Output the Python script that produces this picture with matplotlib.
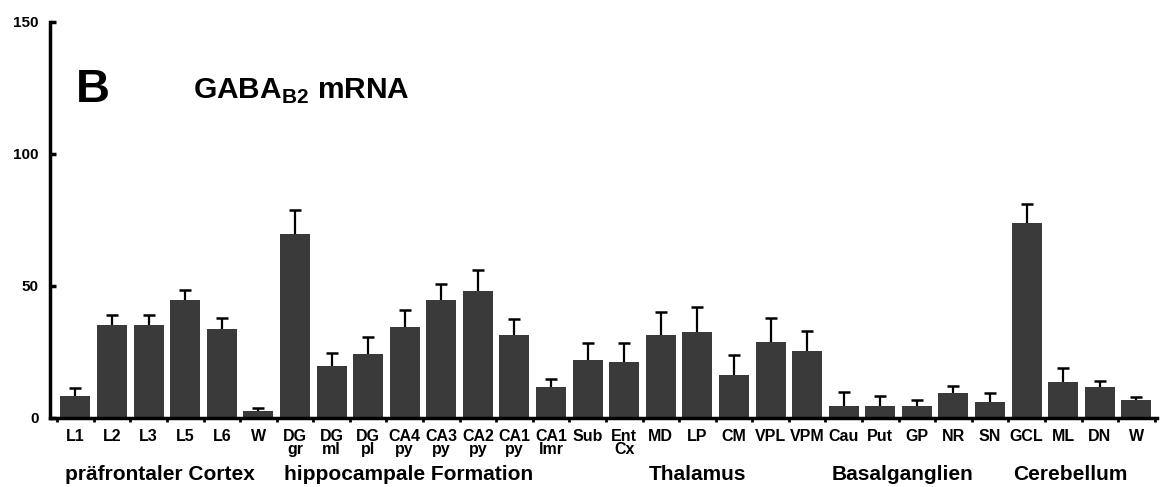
import matplotlib.pyplot as plt
import numpy as np

plt.rcParams['font.family'] = ['Liberation Sans', 'DejaVu Sans']
plt.rcParams['font.weight'] = 'bold'
plt.rcParams['mathtext.fontset'] = 'custom'
plt.rcParams['mathtext.rm'] = 'Liberation Sans:bold'
plt.rcParams['mathtext.bf'] = 'Liberation Sans:bold'

labels = ["L1", "L2", "L3", "L5", "L6", "W",
          "DG\ngr", "DG\nml", "DG\npl", "CA4\npy", "CA3\npy", "CA2\npy", "CA1\npy", "CA1\nlmr", "Sub", "Ent\nCx",
          "MD", "LP", "CM", "VPL", "VPM",
          "Cau", "Put", "GP", "NR", "SN",
          "GCL", "ML", "DN", "W"]
means = [8.3, 35.1, 35.1, 44.7, 33.8, 2.8,
         69.7, 19.8, 24.2, 34.6, 44.7, 48.2, 31.4, 11.6, 21.8, 21.1,
         31.4, 32.4, 16.4, 28.8, 25.4,
         4.7, 4.7, 4.7, 9.6, 6.2,
         74.0, 13.5, 11.6, 6.8]
upper = [11.5, 39.1, 39.1, 48.5, 37.7, 3.7,
         78.8, 24.5, 30.6, 41.0, 50.6, 55.9, 37.6, 14.6, 28.5, 28.5,
         40.2, 42.2, 24.0, 38.0, 33.1,
         9.7, 8.2, 6.8, 12.1, 9.6,
         80.9, 18.8, 14.0, 8.0]
groups = ["präfrontaler Cortex", "hippocampale Formation", "Thalamus", "Basalganglien", "Cerebellum"]
group_pos = [2.3, 9.1, 17.0, 22.6, 27.2]

means = np.array(means)
sd = np.array(upper) - means
x = np.arange(len(labels))

fig = plt.figure(figsize=(11.6, 4.87), dpi=100)
ax = fig.add_axes([0.043, 0.1417, 0.954, 0.8133])

ax.bar(x, means, width=0.82, color="#3a3a3a", zorder=2)
eb = ax.errorbar(x, means, yerr=[np.zeros_like(sd), sd], fmt="none", ecolor="black",
                 elinewidth=1.6, capsize=4, capthick=1.8, zorder=3)
# only the upper caps are drawn in the original
eb[1][0].set_visible(False)

ax.set_xlim(-0.7, 29.55)
ax.set_ylim(0, 150)
ax.spines['top'].set_visible(False)
ax.spines['right'].set_visible(False)
ax.spines['left'].set_linewidth(2.5)
ax.spines['bottom'].set_linewidth(2.5)

ax.set_yticks([0, 50, 100, 150])
ax.tick_params(axis='y', direction='in', length=4, width=2.5, labelsize=11, pad=8)
ax.set_xticks(x)
ax.set_xticklabels(labels, fontsize=11.5, linespacing=0.8, va='top')
ax.tick_params(axis='x', which='major', length=0, pad=8)
ax.set_xticks(np.arange(-0.5, 30, 1), minor=True)
ax.tick_params(axis='x', which='minor', direction='out', length=3, width=2)

for g, p in zip(groups, group_pos):
    ax.text(p, -21.5, g, ha='center', va='center', fontsize=15, fontweight='bold',
            transform=ax.transData, clip_on=False)

fig.text(0.0655, 0.815, "B", fontsize=34, fontweight='bold', ha='left', va='center')
fig.text(0.166, 0.812, r"GABA$_{\mathbf{B2}}$ mRNA", fontsize=21.5, fontweight='bold',
         ha='left', va='center')

fig.savefig("out.png", dpi=100)
